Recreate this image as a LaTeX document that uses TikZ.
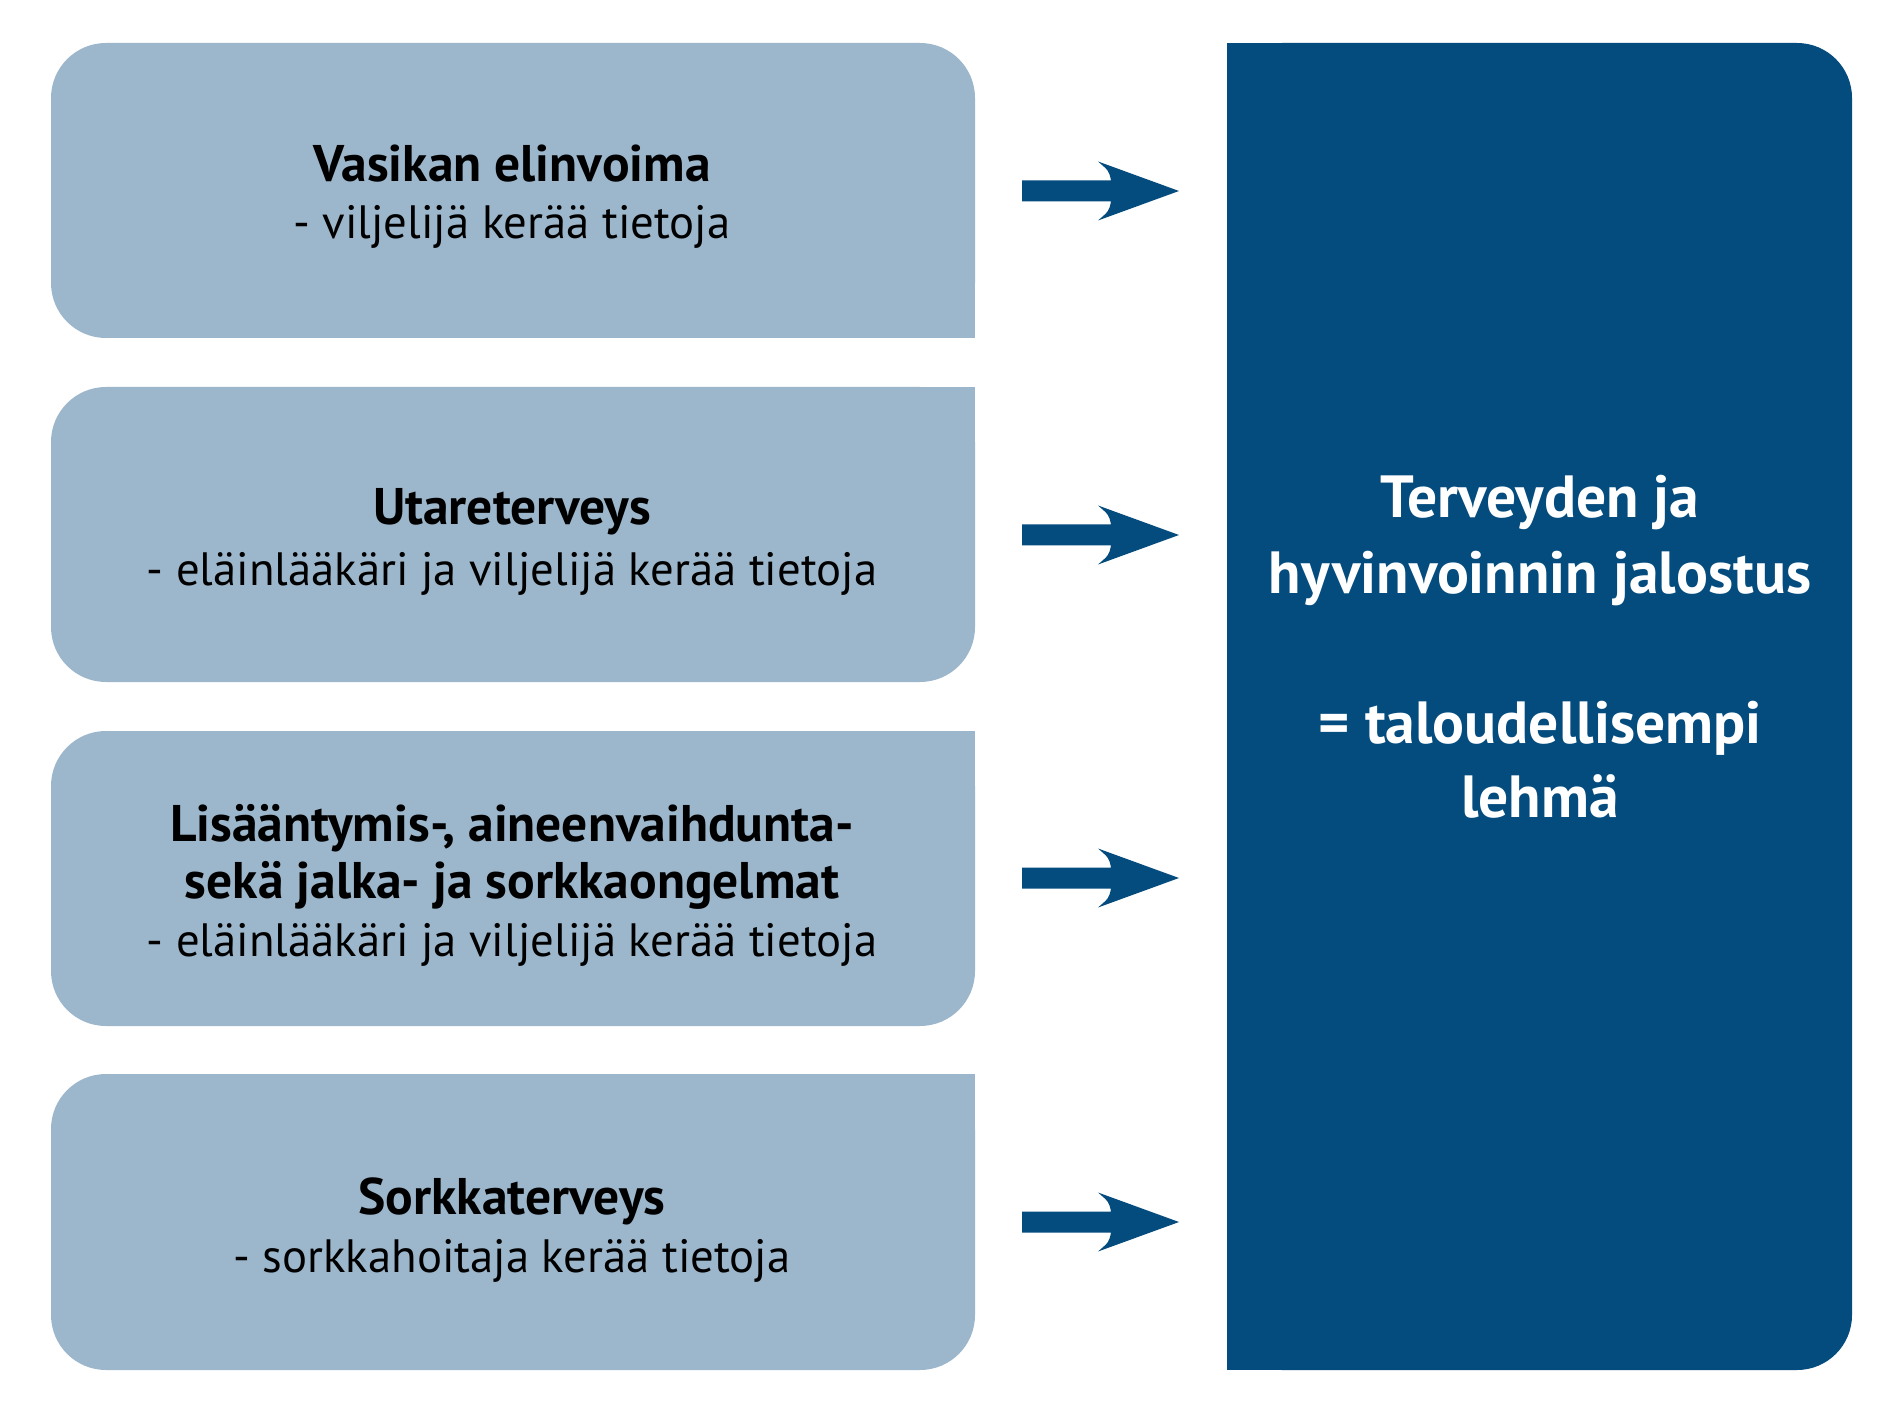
\documentclass[tikz,border=0pt]{standalone}
\usepackage{fontspec}
\setmainfont{PT Sans}
\definecolor{lightbox}{RGB}{156,183,204}
\definecolor{darkbox}{RGB}{4,75,126}
\begin{document}
\begin{tikzpicture}[x=0.4pt,y=-0.4pt,
  lbl/.style={anchor=base,inner sep=0pt,text=black,font=\fontsize{18.7pt}{22pt}\selectfont},
  blbl/.style={anchor=base,inner sep=0pt,text=black,font=\fontsize{20.6pt}{24pt}\selectfont\bfseries},
  rlbl/.style={anchor=base,inner sep=0pt,text=white,font=\fontsize{23.8pt}{28pt}\selectfont\bfseries},
  soft/.style={fill=lightbox,rounded corners=22pt},
  blockarrow/.style={fill=darkbox}]
\useasboundingbox (0,0) rectangle (1890,1417);
% left boxes
\fill[soft] (51,43) rectangle (975,338);
\fill[lightbox] (900,250) rectangle (975,338);
\fill[soft] (51,387) rectangle (975,682);
\fill[lightbox] (900,387) rectangle (975,470);
\fill[soft] (51,731) rectangle (975,1026);
\fill[lightbox] (900,731) rectangle (975,810);
\fill[soft] (51,1074) rectangle (975,1370);
\fill[lightbox] (900,1074) rectangle (975,1150);
% right box
\fill[darkbox,rounded corners=22pt] (1227,43) rectangle (1852,1370);
\fill[darkbox] (1227,43) rectangle (1300,1370);
% arrows
\foreach \n/\cy in {1/191,2/535,3/878,4/1222}{
  \coordinate (a\n) at (1022,\cy);
  \fill[blockarrow] ([yshift=4.2pt]a\n) -- ++(89,0) .. controls ++(-2,-9.5) .. ++(-13,-19) -- ++(81,29.5) -- ++(-81,29.5) .. controls ++(11,-9.5) .. ++(13,-19) -- ++(-89,0) -- cycle;
}
% texts
\node[blbl] (t1a) at (512,182) {Vasikan elinvoima};
\node[lbl] (t1b) at (512,239) {- viljelijä kerää tietoja};
\node[blbl] (t2a) at (512,525) {Utareterveys};
\node[lbl] (t2b) at (512,585) {- eläinlääkäri ja viljelijä kerää tietoja};
\node[blbl] (t3a) at (512,841) {Lisääntymis-, aineenvaihdunta-};
\node[blbl] (t3b) at (512,898) {sekä jalka- ja sorkkaongelmat};
\node[lbl] (t3c) at (512,956) {- eläinlääkäri ja viljelijä kerää tietoja};
\node[blbl] (t4a) at (512,1214) {Sorkkaterveys};
\node[lbl] (t4b) at (512,1272) {- sorkkahoitaja kerää tietoja};
\node[rlbl] (r1) at (1540,518) {Terveyden ja};
\node[rlbl] (r2) at (1540,593) {hyvinvoinnin jalostus};
\node[rlbl] (r3) at (1540,743) {= taloudellisempi};
\node[rlbl] (r4) at (1540,817) {lehmä};
\end{tikzpicture}
\end{document}
